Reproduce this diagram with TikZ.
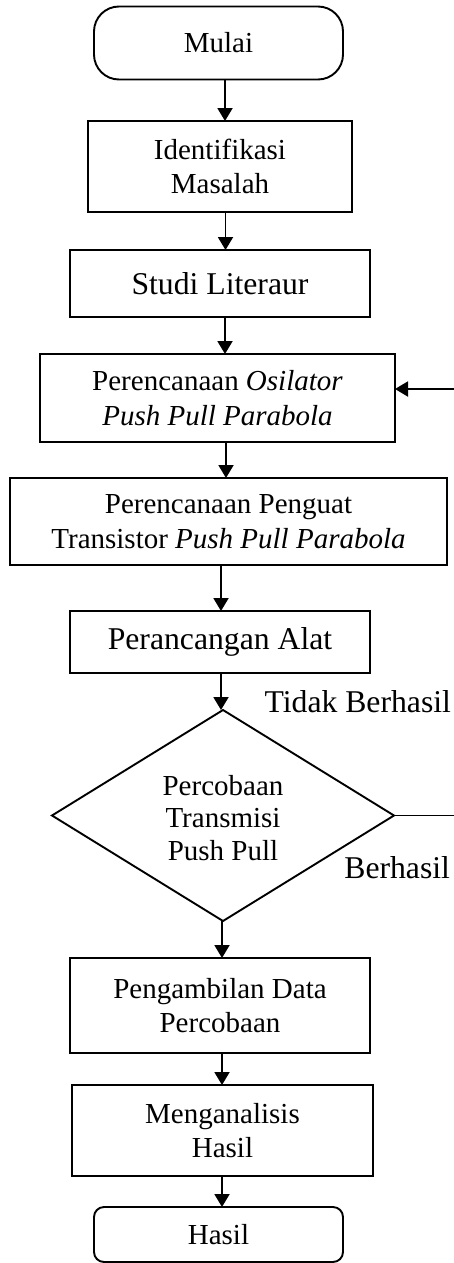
\documentclass[tikz,border=0pt]{standalone}
\usepackage{fontspec}
\setmainfont{Liberation Serif}
\usetikzlibrary{arrows.meta,shapes.geometric}
\begin{document}
\begin{tikzpicture}[x=1pt,y=-1pt,
  every node/.style={inner sep=0pt, outer sep=0pt},
  txt/.style={font=\fontsize{29}{34.5}\selectfont, align=center},
  big/.style={font=\fontsize{31.7}{38}\selectfont, align=center},
  box/.style={draw, line width=1.9pt, rectangle},
  stadium/.style={draw, line width=1.9pt, rectangle, rounded corners=25pt},
  endbox/.style={draw, line width=1.9pt, rectangle, rounded corners=10pt},
  decision/.style={draw, line width=1.9pt, diamond, aspect=1.62},
  arr/.style={line width=1.9pt, -{Triangle[width=15pt,length=13pt]}},
]
\useasboundingbox (0,0) rectangle (454,1263);

\node[stadium, txt, minimum width=249pt, minimum height=73pt] (mulai) at (218.5,43) {Mulai};
\node[box, txt, minimum width=264pt, minimum height=91pt] (ident) at (220,166.5) {Identifikasi\\Masalah};
\node[box, big, minimum width=300pt, minimum height=67pt] (studi) at (220,283.5) {Studi Literaur};
\node[box, txt, minimum width=355pt, minimum height=88pt] (osil) at (217.5,398) {Perencanaan \textit{Osilator}\\\textit{Push Pull Parabola}};
\node[box, txt, minimum width=437pt, minimum height=87pt] (peng) at (228.5,521.5) {Perencanaan Penguat\\Transistor \textit{Push Pull Parabola}};
\node[box, big, minimum width=300pt, minimum height=62pt] (peranc) at (220,642) {Perancangan Alat};
\node[decision, minimum width=342pt, minimum height=211pt] (dec) at (223,815.5) {};
\node[txt, font=\fontsize{29}{32.5}\selectfont] (dectext) at (223,818) {Percobaan\\Transmisi\\Push Pull};
\node[box, txt, minimum width=300pt, minimum height=95pt] (ambil) at (220,1005.5) {Pengambilan Data\\Percobaan};
\node[box, txt, minimum width=301pt, minimum height=91pt] (anal) at (222.5,1130.5) {Menganalisis\\Hasil};
\node[endbox, txt, minimum width=249pt, minimum height=55pt] (hasil) at (218.5,1234.5) {Hasil};

\node[big, anchor=base east] (tidak) at (451,712) {Tidak Berhasil};
\node[big, anchor=base east] (berhasil) at (450,878) {Berhasil};

\draw[arr] ([xshift=6.5pt]mulai.south) -- ([xshift=6.5pt]ident.north -| mulai.south);
\draw[arr] ([xshift=5.5pt]ident.south) -- ([xshift=5.5pt]studi.north);
\draw[arr] ([xshift=5pt]studi.south) -- ([xshift=7.5pt]osil.north);
\draw[arr] ([xshift=8.5pt]osil.south) -- ([xshift=-2.5pt]peng.north);
\draw[arr] ([xshift=-7.5pt]peng.south) -- ([xshift=1pt]peranc.north);
\draw[arr] ([xshift=1pt]peranc.south) -- ([xshift=-2pt]dec.north);
\draw[arr] ([xshift=-1pt]dec.south) -- ([xshift=2pt]ambil.north);
\draw[arr] ([xshift=2pt]ambil.south) -- ([xshift=-0.5pt]anal.north);
\draw[arr] ([xshift=-0.5pt]anal.south) -- ([xshift=3.5pt]hasil.north);
\draw[arr] (dec.east) -- ++(66,0) |- ([yshift=9pt]osil.east);
\end{tikzpicture}
\end{document}
